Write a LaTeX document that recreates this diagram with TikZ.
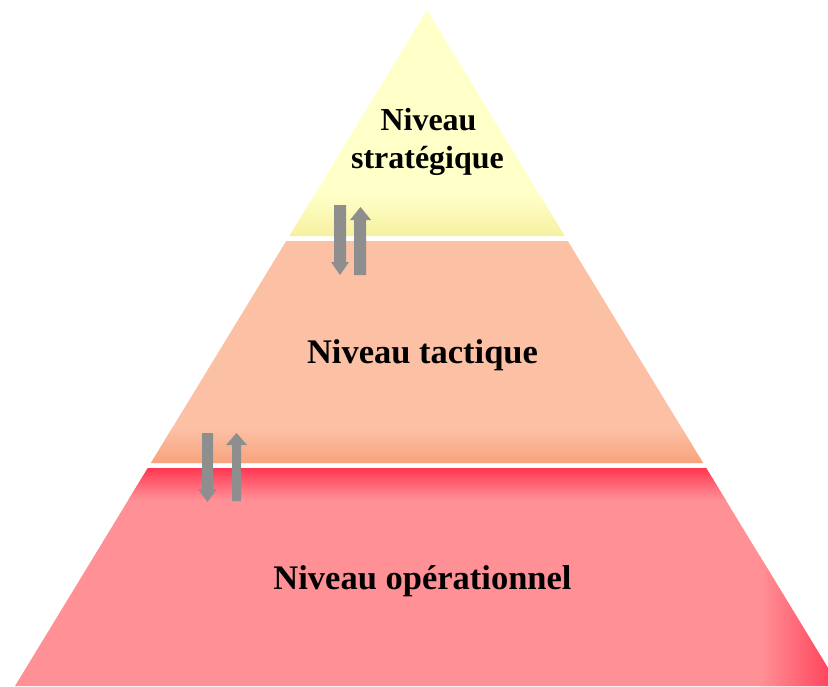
\documentclass[tikz,border=0pt]{standalone}
\usepackage{fontspec}
\setmainfont{Liberation Serif}
\definecolor{yelbase}{HTML}{FFFFC8}
\definecolor{yelband}{HTML}{F6F0A0}
\definecolor{midbase}{HTML}{FCC0A5}
\definecolor{midband}{HTML}{F8A27C}
\definecolor{botpink}{HTML}{FF9196}
\definecolor{botred}{HTML}{FF3450}
\definecolor{arrowgray}{HTML}{8E8E8E}
\tikzset{
  lbl/.style={anchor=base, inner sep=0pt, font=\bfseries\fontsize{34.5}{40}\selectfont, text=black},
  lblsmall/.style={anchor=base, inner sep=0pt, font=\bfseries\fontsize{32}{38}\selectfont, text=black},
  blockarrow/.style={fill=arrowgray, draw=none}
}
\begin{document}
\begin{tikzpicture}[x=1pt,y=-1pt]
\useasboundingbox (0,0) rectangle (828,686);
\clip (0,0) rectangle (828,686);
% top layer
\begin{scope}
  \clip (427,10) -- (564.7,236) -- (289.3,236) -- cycle;
  \fill[yelbase] (280,0) rectangle (580,240);
  \shade[top color=yelbase, bottom color=yelband] (280,195) rectangle (580,237);
\end{scope}
% middle layer
\begin{scope}
  \clip (286.2,241) -- (567.8,241) -- (703.1,463) -- (150.9,463) -- cycle;
  \fill[midbase] (140,238) rectangle (710,466);
  \shade[top color=midbase, bottom color=midband] (140,428) rectangle (710,464);
\end{scope}
% bottom layer
\begin{scope}
  \clip (147.8,468) -- (706.2,468) -- (839,686) -- (15,686) -- cycle;
  \fill[botpink] (0,465) rectangle (840,690);
  \shade[top color=botred, bottom color=botpink] (0,467) rectangle (840,500);
  \shade[left color=botpink, right color=botred] (760,495) rectangle (845,690);
\end{scope}
% upper arrows
\fill[blockarrow] (334,205) -- (346,205) -- (346,262) -- (349,262) -- (340,275) -- (331,262) -- (334,262) -- cycle;
\fill[blockarrow] (354,275) -- (366,275) -- (366,220) -- (371,220) -- (360.5,207) -- (350,220) -- (354,220) -- cycle;
% lower arrows
\fill[blockarrow] (202,433) -- (213,433) -- (213,489) -- (217,489) -- (207.5,502) -- (198,489) -- (202,489) -- cycle;
\fill[blockarrow] (232,501) -- (241,501) -- (241,445) -- (247,445) -- (236.5,433) -- (226,445) -- (232,445) -- cycle;
% labels
\node[lblsmall] (s1) at (428.5,130) {Niveau};
\node[lblsmall] (s2) at (427.5,168) {stratégique};
\node[lbl] (t) at (422.5,363) {Niveau tactique};
\node[lbl] (o) at (422.5,589) {Niveau opérationnel};
\end{tikzpicture}
\end{document}
